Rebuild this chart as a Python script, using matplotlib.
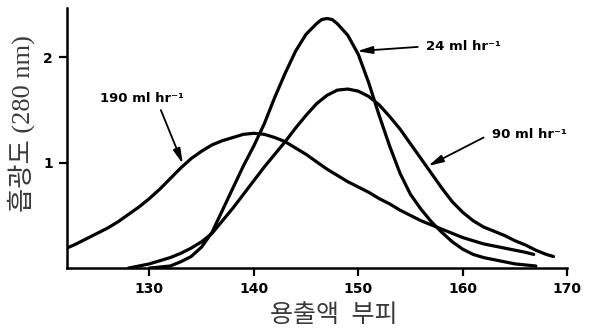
import matplotlib.pyplot as plt

# elution volume (x) and absorbance (y), one list pair per flow rate
vol_24 = [130, 131, 132, 133, 134, 135, 136, 137, 138, 139, 140, 141, 142, 143, 144, 145, 146, 146.5, 147, 147.5,
          148, 149, 150, 151, 152, 153, 154, 155, 156, 157, 158, 159, 160, 161, 162, 163, 164, 165, 166, 167]
abs_24 = [0.00, 0.01, 0.02, 0.06, 0.11, 0.20, 0.34, 0.55, 0.76, 0.97, 1.16, 1.37, 1.62, 1.85, 2.06, 2.22, 2.32, 2.36, 2.37, 2.36,
          2.32, 2.21, 2.03, 1.76, 1.45, 1.16, 0.90, 0.70, 0.56, 0.44, 0.34, 0.25, 0.18, 0.13, 0.10, 0.08, 0.06, 0.04, 0.03, 0.02]

vol_90 = [128, 129, 130, 131, 132, 133, 134, 135, 136, 137, 138, 139, 140, 141, 142, 143, 144, 145, 146, 147,
          148, 149, 150, 151, 152, 153, 154, 155, 156, 157, 158, 159, 160, 161, 162, 163, 164, 165, 166, 167, 168, 168.7]
abs_90 = [0.00, 0.02, 0.04, 0.07, 0.10, 0.14, 0.19, 0.25, 0.33, 0.45, 0.57, 0.70, 0.83, 0.96, 1.08, 1.20, 1.33, 1.45, 1.56, 1.64,
          1.69, 1.70, 1.68, 1.63, 1.55, 1.44, 1.32, 1.18, 1.04, 0.90, 0.76, 0.63, 0.53, 0.45, 0.39, 0.35, 0.31, 0.26, 0.22, 0.17, 0.13, 0.11]

vol_190 = [122.1, 123, 124, 125, 126, 127, 128, 129, 130, 131, 132, 133, 134, 135, 136, 137, 138, 139, 140, 141, 142, 143, 144,
           145, 146, 147, 148, 149, 150, 151, 152, 153, 154, 155, 156, 157, 158, 159, 160, 161, 162, 163, 164, 165, 166, 166.8]
abs_190 = [0.19, 0.23, 0.28, 0.33, 0.38, 0.44, 0.51, 0.58, 0.66, 0.75, 0.85, 0.95, 1.04, 1.11, 1.17, 1.21, 1.24, 1.27, 1.28, 1.27, 1.24, 1.20, 1.14,
           1.08, 1.01, 0.94, 0.88, 0.82, 0.77, 0.72, 0.66, 0.61, 0.55, 0.50, 0.45, 0.41, 0.37, 0.33, 0.29, 0.26, 0.23, 0.21, 0.19, 0.17, 0.15, 0.13]

x_ticks = [130, 140, 150, 160, 170]
y_ticks = [1, 2]

fig = plt.figure(figsize=(5.97, 3.31), dpi=100)
ax = fig.add_axes([0.112, 0.19, 0.838, 0.786])

for v, a in [(vol_24, abs_24), (vol_90, abs_90), (vol_190, abs_190)]:
    ax.plot(v, a, color='black', lw=2.3, solid_capstyle='round', solid_joinstyle='round')

ax.set_xlim(122.1, 170)
ax.set_ylim(0, 2.47)
ax.spines['top'].set_visible(False)
ax.spines['right'].set_visible(False)
ax.spines['left'].set_linewidth(1.8)
ax.spines['bottom'].set_linewidth(1.8)
ax.set_xticks(x_ticks)
ax.set_yticks(y_ticks)
ax.tick_params(direction='out', length=6, width=1.6, pad=4)
for lab in ax.get_xticklabels() + ax.get_yticklabels():
    lab.set_fontsize(10)
    lab.set_fontweight('bold')

# axis titles placed in figure coords so they sit where the scan has them
kor = ['Liberation Serif', 'Noto Sans CJK KR']
fig.text(334 / 597, 1 - 316 / 331, '용출액  부피', family=kor, fontsize=18, color='#3a3a3a',
         fontweight='light', ha='center', va='center')
fig.text(21 / 597, 1 - 124 / 331, '흡광도 (280 nm)', family=kor, fontsize=19, color='#3a3a3a',
         fontweight='light', ha='center', va='center', rotation=90)

arrow = dict(arrowstyle='-|>,head_length=0.9,head_width=0.22', color='black', lw=1.3, shrinkA=0, shrinkB=0)
txt = dict(fontsize=9.5, fontweight='bold', va='center', ha='left')
ax.annotate('', xy=(149.9, 2.06), xytext=(155.7, 2.10), arrowprops=arrow)
ax.text(156.5, 2.10, '24 ml hr⁻¹', **txt)
ax.annotate('', xy=(156.7, 0.97), xytext=(162.0, 1.24), arrowprops=arrow)
ax.text(162.8, 1.27, '90 ml hr⁻¹', **txt)
ax.annotate('', xy=(133.2, 0.99), xytext=(131.1, 1.50), arrowprops=arrow)
ax.text(125.3, 1.61, '190 ml hr⁻¹', **txt)

plt.savefig('out.png', dpi=100)
